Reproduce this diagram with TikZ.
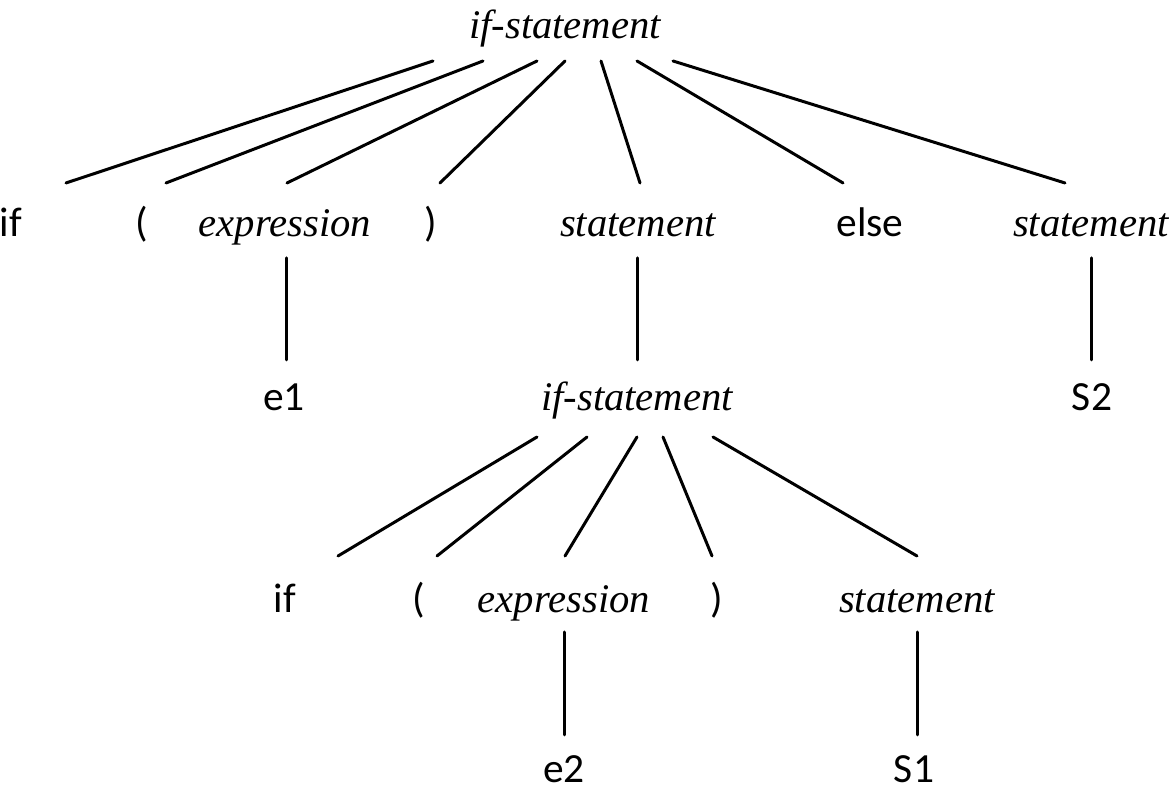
\documentclass[tikz,border=0pt]{standalone}
\usepackage{fontspec}
\setmainfont{Liberation Serif}
\setsansfont{Carlito}
\usetikzlibrary{calc}
\tikzset{
  edge/.style={draw=black, line width=0.75pt, line cap=round},
  nt/.style={anchor=base, inner sep=0pt, font=\itshape\fontsize{10.2}{12}\selectfont},
  tm/.style={anchor=base, inner sep=0pt, font=\sffamily\fontsize{10.4}{12}\selectfont},
}
\begin{document}
\begin{tikzpicture}[x=0.25bp,y=-0.25bp]
  \useasboundingbox (0,0) rectangle (1169,792);
  % level 0
  \node[nt] (top) at (565,39) {if-statement};
  % level 1
  \node[tm] (if1) at (11,237) {if};
  \node[tm] (lp1) at (142,237) {(};
  \node[nt] (ex1) at (285,237) {expression};
  \node[tm] (rp1) at (431,237) {)};
  \node[nt] (st1) at (638,237) {statement};
  \node[tm] (els) at (870,237) {else};
  \node[nt] (st2) at (1091,237) {statement};
  % level 2
  \node[tm] (e1) at (284,411) {e1};
  \node[nt] (sub) at (637,411) {if-statement};
  \node[tm] (s2) at (1092,411) {S2};
  % level 3
  \node[tm] (if2) at (285,613) {if};
  \node[tm] (lp2) at (419,613) {(};
  \node[nt] (ex2) at (564,613) {expression};
  \node[tm] (rp2) at (717,613) {)};
  \node[nt] (st3) at (917,613) {statement};
  % level 4
  \node[tm] (e2) at (564,783) {e2};
  \node[tm] (s1) at (914,783) {S1};
  % upper fan
  \foreach \ch/\p/\q in {if1/-132/55, lp1/-82/24, ex1/-28/2, rp1/0/9, st1/36/2, els/72/-27, st2/108/-26}
    \draw[edge] ($(top.base)+(\p,22)$) -- ($(\ch.base)+(\q,-54)$);
  % lower fan
  \foreach \ch/\p/\q in {if2/-100/53, lp2/-50/18, ex2/0/1, rp2/26/-5, st3/76/0}
    \draw[edge] ($(sub.base)+(\p,26)$) -- ($(\ch.base)+(\q,-57)$);
  % single children
  \draw[edge] ($(ex1.base)+(1,21)$) -- ($(e1.base)+(2,-51)$);
  \draw[edge] ($(st1.base)+(-1,21)$) -- ($(sub.base)+(0,-51)$);
  \draw[edge] ($(st2.base)+(0,21)$) -- ($(s2.base)+(-1,-51)$);
  \draw[edge] ($(ex2.base)+(0,19)$) -- ($(e2.base)+(0,-48)$);
  \draw[edge] ($(st3.base)+(0,19)$) -- ($(s1.base)+(3,-48)$);
\end{tikzpicture}
\end{document}
